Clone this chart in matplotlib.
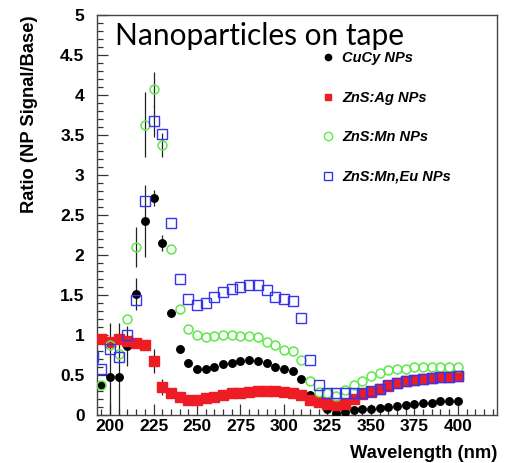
import matplotlib
matplotlib.use("Agg")
import matplotlib.pyplot as plt
from matplotlib.lines import Line2D
from matplotlib.ticker import MultipleLocator

# ---------------- data ----------------
wl = [195, 200, 205, 210, 215, 220, 225, 230, 235, 240, 245, 250, 255, 260,
      265, 270, 275, 280, 285, 290, 295, 300, 305, 310, 315, 320, 325, 330,
      335, 340, 345, 350, 355, 360, 365, 370, 375, 380, 385, 390, 395, 400]

cucy = [0.37, 0.47, 0.47, 0.86, 1.51, 2.42, 2.71, 2.15, 1.28, 0.82, 0.65, 0.57,
        0.575, 0.60, 0.635, 0.655, 0.675, 0.688, 0.68, 0.655, 0.60, 0.575,
        0.55, 0.445, 0.25, 0.15, 0.07, 0.03, 0.04, 0.06, 0.075, 0.08, 0.09,
        0.105, 0.115, 0.13, 0.14, 0.15, 0.155, 0.17, 0.175, 0.18]
cucy_err = [0.0, 0.68, 0.68, 0.25, 0.2, 0.45, 0.1, 0.1] + [0.0] * 34

znsag = [0.95, 0.91, 0.95, 0.93, 0.90, 0.87, 0.67, 0.35, 0.28, 0.22, 0.19, 0.19,
         0.21, 0.23, 0.25, 0.27, 0.28, 0.29, 0.30, 0.30, 0.30, 0.29, 0.28,
         0.25, 0.19, 0.16, 0.135, 0.12, 0.14, 0.20, 0.26, 0.29, 0.33, 0.36,
         0.40, 0.42, 0.44, 0.45, 0.46, 0.47, 0.48, 0.49]
znsag_err = [0.0] * 5 + [0.05, 0.15, 0.1] + [0.0] * 34

znsmn = [0.37, 0.88, 0.76, 1.20, 2.10, 3.63, 4.07, 3.37, 2.07, 1.33, 1.08, 1.00,
         0.98, 0.99, 1.00, 1.00, 0.99, 0.99, 0.97, 0.91, 0.87, 0.81, 0.80,
         0.69, 0.43, 0.29, 0.27, 0.24, 0.31, 0.37, 0.43, 0.49, 0.53, 0.56,
         0.58, 0.58, 0.60, 0.60, 0.60, 0.60, 0.60, 0.60]
znsmn_err = [0.0, 0.0, 0.0, 0.0, 0.25, 0.41, 0.22, 0.15] + [0.0] * 34

wl_eu = [190] + wl
znsmneu = [0.72, 0.57, 0.83, 0.72, 1.00, 1.44, 2.67, 3.67, 3.51, 2.40, 1.70, 1.45,
           1.38, 1.40, 1.48, 1.54, 1.58, 1.60, 1.62, 1.62, 1.56, 1.48, 1.45,
           1.43, 1.21, 0.69, 0.38, 0.27, 0.27, 0.27, 0.27, 0.28, 0.30, 0.33,
           0.37, 0.40, 0.42, 0.44, 0.45, 0.46, 0.47, 0.48, 0.49]
znsmneu_err = [0.0] * 7 + [0.2, 0.0] + [0.0] * 34

labels = ["CuCy NPs", "ZnS:Ag NPs", "ZnS:Mn NPs", "ZnS:Mn,Eu NPs"]
title_text = "Nanoparticles on tape"
xlabel = "Wavelength (nm)"
ylabel = "Ratio (NP Signal/Base)"

# ---------------- figure ----------------
W, H = 508, 463
fig = plt.figure(figsize=(W / 100, H / 100), dpi=100)
ax = fig.add_axes([97 / W, (H - 415) / H, 400 / W, 400 / H])

c_black = "black"
c_red = "#ee1c24"
c_green = "#5fe84a"
c_blue = "#3535ee"
ecol = "#222222"

ax.errorbar(wl, cucy, yerr=cucy_err, fmt="o", color=c_black, ms=5.4,
            ecolor=ecol, elinewidth=0.9, capsize=0, zorder=3)
ax.errorbar(wl, znsag, yerr=znsag_err, fmt="s", color=c_red, ms=7.4,
            mec=c_red, ecolor=ecol, elinewidth=0.9, capsize=0, zorder=4)
ax.errorbar(wl, znsmn, yerr=znsmn_err, fmt="o", mfc="none", mec=c_green,
            mew=1.1, ms=6.4, ecolor=ecol, elinewidth=0.9, capsize=0, zorder=5)
ax.errorbar(wl_eu, znsmneu, yerr=znsmneu_err, fmt="s", mfc="none", mec=c_blue,
            mew=1.0, ms=7.4, ecolor=ecol, elinewidth=0.9, capsize=0, zorder=6)

ax.set_xlim(192.5, 422.5)
ax.set_ylim(0, 5)

ax.xaxis.set_major_locator(MultipleLocator(25))
ax.xaxis.set_minor_locator(MultipleLocator(5))
ax.yaxis.set_major_locator(MultipleLocator(0.5))
ax.yaxis.set_minor_locator(MultipleLocator(0.1))
ax.set_xticks([200, 225, 250, 275, 300, 325, 350, 375, 400])
ax.set_yticks([0, 0.5, 1, 1.5, 2, 2.5, 3, 3.5, 4, 4.5, 5])
ax.set_yticklabels(["0", "0.5", "1", "1.5", "2", "2.5", "3", "3.5", "4", "4.5", "5"])

ax.tick_params(which="both", direction="in", top=False, right=False,
               color="#333333", width=0.9)
ax.tick_params(which="major", length=8)
ax.tick_params(which="minor", length=4)
ax.tick_params(axis="y", which="major", pad=9)
ax.tick_params(axis="x", which="major", pad=3)
for lab in ax.get_xticklabels() + ax.get_yticklabels():
    lab.set_fontfamily("Liberation Sans")
    lab.set_fontweight("bold")
    lab.set_fontsize(12.5)

for sp in ax.spines.values():
    sp.set_color("#444444")
    sp.set_linewidth(1.0)

ax.set_xlabel(xlabel, loc="right", fontfamily="Liberation Sans",
              fontweight="bold", fontsize=13.2, labelpad=8)
ax.set_ylabel(ylabel, loc="top", fontfamily="Liberation Sans",
              fontweight="bold", fontsize=13.2, labelpad=16)

ax.text(0.045, 0.925, title_text, transform=ax.transAxes, ha="left",
        va="baseline", fontfamily="Lato", fontsize=21.5, color="black")

handles = [
    Line2D([], [], ls="none", marker="o", color=c_black, ms=4.5),
    Line2D([], [], ls="none", marker="s", color=c_red, ms=4.5),
    Line2D([], [], ls="none", marker="o", mfc="none", mec=c_green, mew=1.0, ms=6),
    Line2D([], [], ls="none", marker="s", mfc="none", mec=c_blue, mew=1.0, ms=6),
]
leg = ax.legend(handles, labels, loc="upper left",
                bbox_to_anchor=(0.562, 0.909), frameon=False,
                prop={"family": "Liberation Sans", "weight": "bold",
                      "style": "italic", "size": 10.5},
                handlelength=0.8, handletextpad=0.6, labelspacing=1.75,
                borderpad=0, borderaxespad=0)

fig.savefig("out.png", dpi=100)
